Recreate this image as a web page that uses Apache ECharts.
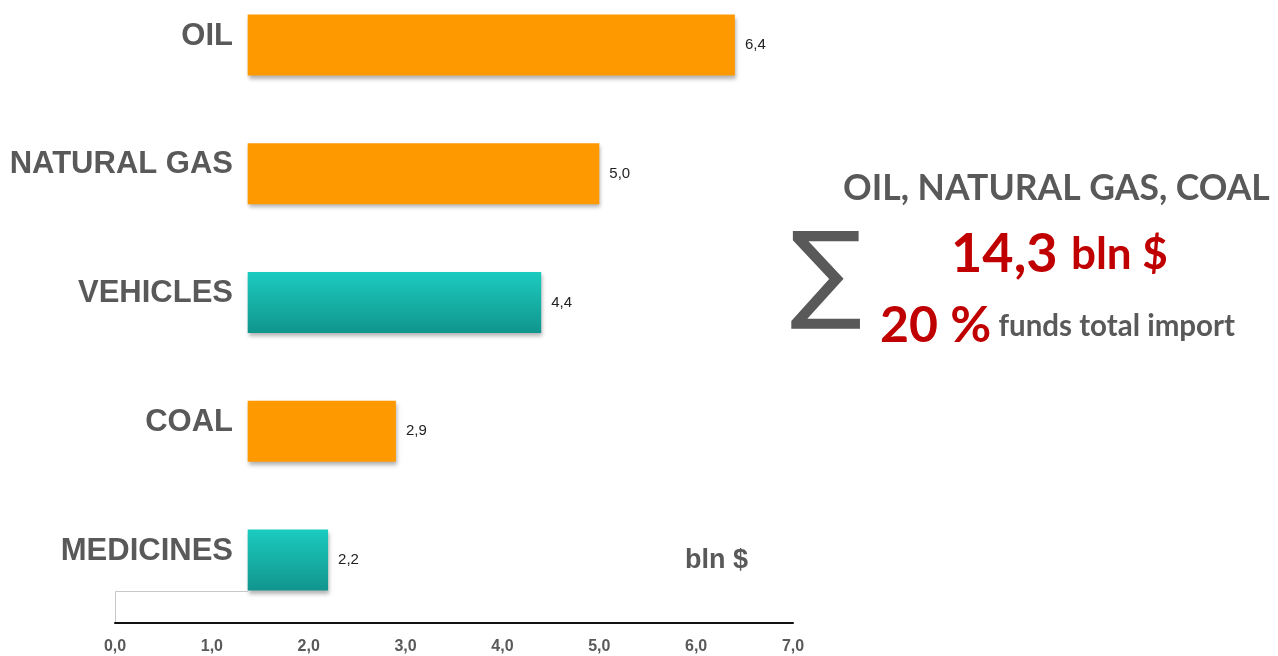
<!DOCTYPE html>
<html>
<head>
<meta charset="utf-8">
<script src="https://cdn.jsdelivr.net/npm/echarts@6/dist/echarts.min.js"></script>
<style>
  html, body { margin: 0; padding: 0; background: #fff; }
  #chart { width: 1278px; height: 656px; }
</style>
</head>
<body>
<div id="chart"></div>
<script>
// import values, bln $
const categories = ['OIL', 'NATURAL GAS', 'VEHICLES', 'COAL', 'MEDICINES']
const values = [6.4, 5.0, 4.4, 2.9, 2.2]
const groups = ['fuel', 'fuel', 'other', 'fuel', 'other']
const xTicks = [0, 1, 2, 3, 4, 5, 6, 7]
// bars are drawn starting from this value, not from 0
const barStart = 1.37

const fmt = v => v.toFixed(1).replace('.', ',')

const grey = '#595959'
const red = '#c00000'
const orange = '#ff9900'
const teal = new echarts.graphic.LinearGradient(0, 0, 0, 1, [
    {offset: 0, color: '#1ccbbf'},
    {offset: 1, color: '#10958d'}
])
const barWidth = 61

const chart = echarts.init(document.getElementById('chart'))

chart.setOption({
    animation: false,
    grid: {left: 115, top: 45, width: 678, height: 515, containLabel: false},
    xAxis: {
        type: 'value',
        min: xTicks[0],
        max: xTicks[xTicks.length - 1],
        interval: 1,
        offset: 63,
        splitLine: {show: false},
        axisTick: {show: false},
        axisLine: {show: true, lineStyle: {color: '#111', width: 2}},
        axisLabel: {
            formatter: fmt,
            color: grey,
            fontWeight: 'bold',
            fontSize: 16,
            fontFamily: 'Liberation Sans, Arial',
            margin: 16
        }
    },
    yAxis: {
        type: 'category',
        inverse: true,
        boundaryGap: false,
        data: categories,
        axisLine: {show: false},
        axisTick: {show: false},
        axisLabel: {
            color: grey,
            fontWeight: 'bold',
            fontSize: 31,
            fontFamily: 'Liberation Sans, Arial',
            margin: -118,
            verticalAlign: 'bottom',
            lineHeight: 18
        }
    },
    series: [
        {
            type: 'bar',
            stack: 'a',
            silent: true,
            barWidth: barWidth,
            itemStyle: {color: 'transparent'},
            data: values.map(() => barStart)
        },
        {
            type: 'bar',
            stack: 'a',
            barWidth: barWidth,
            data: values.map((v, i) => ({
                value: v - barStart,
                itemStyle: {color: groups[i] === 'fuel' ? orange : teal}
            })),
            itemStyle: {
                shadowColor: 'rgba(0,0,0,0.3)',
                shadowBlur: 4,
                shadowOffsetX: 1,
                shadowOffsetY: 3
            },
            label: {
                show: true,
                position: 'right',
                distance: 10,
                color: '#222',
                fontSize: 15,
                fontFamily: 'Liberation Sans, Arial',
                formatter: p => fmt(values[p.dataIndex])
            }
        }
    ]
})

// open box under the last bar, from 0 up to the bar start
const last = categories.length - 1
const p0 = chart.convertToPixel({gridIndex: 0}, [0, last])
const p1 = chart.convertToPixel({gridIndex: 0}, [barStart, last])
const boxTop = p0[1] + barWidth / 2 + 1
const axisY = p0[1] + 63

chart.setOption({
    graphic: [
        {
            type: 'polyline',
            shape: {points: [[p0[0] + 0.5, axisY - 1], [p0[0] + 0.5, boxTop], [p1[0], boxTop]]},
            style: {fill: null, stroke: '#c8c8c8', lineWidth: 1}
        },
        {
            type: 'text', left: 685, top: 547,
            style: {text: 'bln $', fill: grey, font: 'bold 27px "Liberation Sans", Arial'}
        },
        {
            type: 'text', left: 843, top: 171,
            style: {text: 'OIL, NATURAL GAS, COAL', fill: grey, font: 'bold 35.5px Lato'}
        },
        {
            type: 'text', left: 790, top: 227,
            style: {text: '\u2211', fill: grey, font: '107px "DejaVu Sans"'}
        },
        {
            type: 'text', left: 951, top: 228,
            style: {
                text: '{a|14,3} {b|bln $}',
                rich: {
                    a: {fill: red, font: 'bold 54px Lato'},
                    b: {fill: red, font: 'bold 44px Lato', padding: [0, 0, 0, 10]}
                }
            }
        },
        {
            type: 'text', left: 880, top: 301,
            style: {
                text: '{a|20 %} {b|funds total import}',
                rich: {
                    a: {fill: red, font: 'bold 50px Lato'},
                    b: {fill: grey, font: 'bold 29.5px Lato', padding: [0, 0, 0, 4]}
                }
            }
        }
    ]
})
</script>
</body>
</html>
